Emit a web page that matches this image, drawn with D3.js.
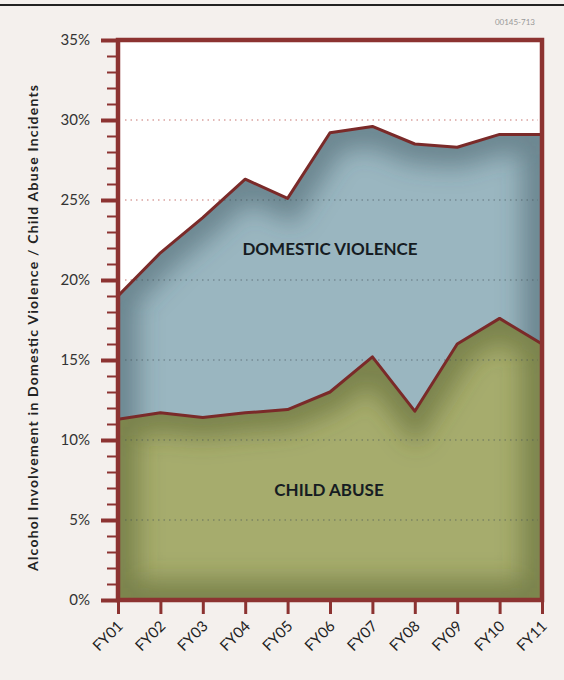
<!DOCTYPE html>
<html>
<head>
<meta charset="utf-8">
<script src="https://cdn.jsdelivr.net/npm/d3@7"></script>
<style>
  body { margin: 0; background: #f4f0ed; }
  svg { display: block; font-family: Lato, "Open Sans", sans-serif; }
</style>
</head>
<body>
<div id="chart"></div>
<script>
  // fiscal years on the x axis
  var years = ["FY01", "FY02", "FY03", "FY04", "FY05", "FY06", "FY07", "FY08", "FY09", "FY10", "FY11"];
  // percent of incidents with alcohol involvement
  var domesticViolence = [19.0, 21.7, 23.9, 26.3, 25.1, 29.2, 29.6, 28.5, 28.3, 29.1, 29.1];
  var childAbuse = [11.3, 11.7, 11.4, 11.7, 11.9, 13.0, 15.2, 11.8, 16.0, 17.6, 16.0];
  var majorTicks = [0, 5, 10, 15, 20, 25, 30, 35];
  var gridTicks = [5, 10, 15, 20, 25, 30];

  var width = 564, height = 680;
  var frameColor = "#8c3331";

  var svg = d3.select("#chart").append("svg")
      .attr("width", width)
      .attr("height", height);

  svg.append("rect").attr("width", width).attr("height", height).attr("fill", "#f4f0ed");
  svg.append("line")
      .attr("x1", 0).attr("x2", width).attr("y1", 5).attr("y2", 5)
      .attr("stroke", "#222").attr("stroke-width", 2);
  svg.append("text")
      .attr("x", 535).attr("y", 25)
      .attr("text-anchor", "end")
      .attr("font-size", 8)
      .attr("fill", "#999")
      .text("00145-713");

  var x = d3.scalePoint().domain(years).range([118, 542]);
  var y = d3.scaleLinear().domain([0, 35]).range([600, 40]);

  var defs = svg.append("defs");
  defs.append("filter").attr("id", "blur")
      .attr("filterUnits", "userSpaceOnUse")
      .attr("x", 0).attr("y", 0).attr("width", width).attr("height", height)
    .append("feGaussianBlur").attr("stdDeviation", 12);

  var area = function(vals) {
    return d3.area()
        .x((d, i) => x(years[i]))
        .y0(y(0))
        .y1(d => y(d))(vals);
  };
  var line = function(vals) {
    return d3.line()
        .x((d, i) => x(years[i]))
        .y(d => y(d))(vals);
  };

  defs.append("clipPath").attr("id", "plot")
    .append("rect").attr("x", 118).attr("y", 40).attr("width", 424).attr("height", 560);
  defs.append("clipPath").attr("id", "dvclip")
    .append("path").attr("d", area(domesticViolence));
  defs.append("clipPath").attr("id", "caclip")
    .append("path").attr("d", area(childAbuse));

  // plot background
  svg.append("rect")
      .attr("x", 118).attr("y", 40).attr("width", 424).attr("height", 560)
      .attr("fill", "#fff");

  var g = svg.append("g").attr("clip-path", "url(#plot)");

  // pink dotted grid over the white part
  g.selectAll(".grid").data(gridTicks).enter().append("line")
      .attr("x1", 125).attr("x2", 538)
      .attr("y1", d => y(d)).attr("y2", d => y(d))
      .attr("stroke", "#d9a3a0")
      .attr("stroke-width", 1.5)
      .attr("stroke-dasharray", "1.5,4");

  // filled area with a soft dark rim inside its edge
  function shadedArea(vals, fill, clipId, rim) {
    var d = area(vals);
    g.append("path").attr("d", d).attr("fill", fill);
    g.append("g").attr("clip-path", "url(#" + clipId + ")")
      .append("path").attr("d", d)
        .attr("fill", "none")
        .attr("stroke", rim)
        .attr("stroke-opacity", 0.5)
        .attr("stroke-width", 40)
        .attr("filter", "url(#blur)");
  }
  shadedArea(domesticViolence, "#9ab6c0", "dvclip", "#3c5660");
  shadedArea(childAbuse, "#a6ac6d", "caclip", "#4f5a2a");

  // darker dotted grid inside the coloured areas
  g.append("g").attr("clip-path", "url(#dvclip)")
    .selectAll("line").data(gridTicks).enter().append("line")
      .attr("x1", 125).attr("x2", 538)
      .attr("y1", d => y(d)).attr("y2", d => y(d))
      .attr("stroke", "#3e4a52")
      .attr("stroke-opacity", 0.4)
      .attr("stroke-width", 1.5)
      .attr("stroke-dasharray", "1.5,4");

  g.append("path").attr("d", line(domesticViolence))
      .attr("fill", "none").attr("stroke", "#7a2a29").attr("stroke-width", 3)
      .attr("stroke-linejoin", "round");
  g.append("path").attr("d", line(childAbuse))
      .attr("fill", "none").attr("stroke", "#7a2a29").attr("stroke-width", 3)
      .attr("stroke-linejoin", "round");

  // area labels
  svg.append("text")
      .attr("x", 330).attr("y", 255)
      .attr("text-anchor", "middle")
      .attr("font-size", 17).attr("font-weight", "bold")
      .attr("fill", "#161c22")
      .text("DOMESTIC VIOLENCE");
  svg.append("text")
      .attr("x", 329).attr("y", 496)
      .attr("text-anchor", "middle")
      .attr("font-size", 17).attr("font-weight", "bold")
      .attr("fill", "#161c22")
      .text("CHILD ABUSE");

  // frame
  svg.append("rect")
      .attr("x", 118).attr("y", 40).attr("width", 424).attr("height", 560)
      .attr("fill", "none").attr("stroke", frameColor).attr("stroke-width", 4.5);

  // minor y ticks
  var minor = svg.append("g")
      .attr("transform", "translate(118,0)")
      .call(d3.axisLeft(y).tickValues(d3.range(0, 36, 1)).tickSize(11).tickFormat(""));
  minor.select(".domain").remove();
  minor.selectAll("line").attr("stroke", frameColor).attr("stroke-width", 2);

  // major y ticks
  var yAxis = svg.append("g")
      .attr("transform", "translate(118,0)")
      .call(d3.axisLeft(y).tickValues(majorTicks).tickSize(17).tickPadding(11)
        .tickFormat(d => d + "%"));
  yAxis.select(".domain").remove();
  yAxis.selectAll("line").attr("stroke", frameColor).attr("stroke-width", 4);
  yAxis.selectAll("text")
      .attr("font-family", "Lato, 'Open Sans', sans-serif")
      .attr("font-size", 15)
      .attr("fill", "#333");

  // x axis
  var xAxis = svg.append("g")
      .attr("transform", "translate(0,600)")
      .call(d3.axisBottom(x).tickSize(14).tickFormat(""));
  xAxis.select(".domain").remove();
  xAxis.selectAll("line").attr("stroke", frameColor).attr("stroke-width", 3);

  svg.append("g").selectAll("text").data(years).enter().append("text")
      .attr("transform", d => "translate(" + (x(d) + 6) + ",627) rotate(-45)")
      .attr("text-anchor", "end")
      .attr("font-size", 15)
      .attr("fill", "#222")
      .text(d => d);

  // y axis title
  svg.append("text")
      .attr("transform", "translate(38,328) rotate(-90)")
      .attr("text-anchor", "middle")
      .attr("font-size", 14).attr("font-weight", "bold")
      .attr("textLength", 486).attr("lengthAdjust", "spacing")
      .attr("fill", "#222")
      .text("Alcohol Involvement in Domestic Violence / Child Abuse Incidents");
</script>
</body>
</html>
